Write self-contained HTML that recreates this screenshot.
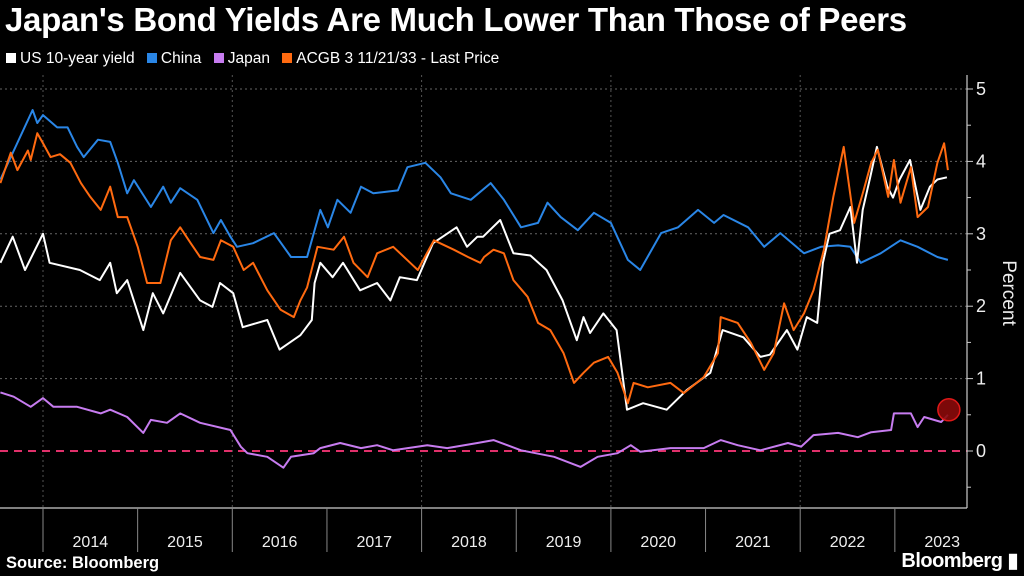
<!DOCTYPE html>
<html><head><meta charset="utf-8">
<style>
html,body{margin:0;padding:0;background:#000;width:1024px;height:576px;overflow:hidden;font-family:"Liberation Sans",sans-serif;color:#fff}
#title{position:absolute;left:5px;top:1px;font-size:33px;font-weight:bold;letter-spacing:-0.3px;white-space:nowrap}
#legend{position:absolute;left:6px;top:50px;font-size:15.5px;white-space:nowrap}
.li{display:inline-block;margin-right:8px}
.sw{display:inline-block;width:10px;height:10px;margin-right:4px;vertical-align:0px}
#source{position:absolute;left:6px;top:554px;font-size:16.5px;font-weight:bold}
#logo{position:absolute;right:6px;top:548px;font-size:20px;font-weight:bold;letter-spacing:-0.5px}
svg{position:absolute;left:0;top:0}
</style></head><body>
<div id="title">Japan's Bond Yields Are Much Lower Than Those of Peers</div>
<div id="legend">
<span class="li"><span class="sw" style="background:#fff"></span>US 10-year yield</span>
<span class="li"><span class="sw" style="background:#2a86e6"></span>China</span>
<span class="li"><span class="sw" style="background:#c77cf0"></span>Japan</span>
<span class="li"><span class="sw" style="background:#ff6a10"></span>ACGB 3 11/21/33 - Last Price</span>
</div>
<svg id="chart" width="1024" height="576"></svg>
<div id="source">Source: Bloomberg</div>
<div id="logo">Bloomberg ▮</div>
<script>
const yearLabels=["2014","2015","2016","2017","2018","2019","2020","2021","2022","2023"];
const yTicks=[0,1,2,3,4,5];
const usDates=[2013.55,2013.68,2013.81,2014.0,2014.07,2014.39,2014.60,2014.71,2014.78,2014.89,2015.06,2015.16,2015.27,2015.45,2015.66,2015.79,2015.87,2016.01,2016.11,2016.37,2016.50,2016.72,2016.84,2016.87,2016.93,2017.06,2017.17,2017.35,2017.53,2017.67,2017.77,2017.95,2018.12,2018.37,2018.48,2018.59,2018.65,2018.83,2018.97,2019.15,2019.32,2019.49,2019.64,2019.71,2019.78,2019.92,2020.06,2020.17,2020.34,2020.59,2020.80,2021.05,2021.18,2021.40,2021.58,2021.68,2021.86,2021.97,2022.07,2022.18,2022.24,2022.31,2022.42,2022.53,2022.60,2022.66,2022.74,2022.81,2022.92,2022.98,2023.05,2023.16,2023.27,2023.37,2023.45,2023.55];
const usVals=[2.6,2.96,2.5,3.0,2.6,2.5,2.36,2.6,2.18,2.36,1.67,2.18,1.9,2.46,2.08,1.99,2.32,2.18,1.71,1.81,1.4,1.6,1.81,2.32,2.6,2.4,2.6,2.22,2.32,2.08,2.4,2.36,2.87,3.09,2.82,2.96,2.96,3.19,2.73,2.7,2.5,2.08,1.53,1.85,1.63,1.9,1.67,0.57,0.66,0.57,0.84,1.08,1.67,1.57,1.3,1.33,1.67,1.4,1.85,1.77,2.6,3.0,3.05,3.37,2.6,3.33,3.78,4.2,3.65,3.5,3.75,4.02,3.33,3.65,3.75,3.78];
const cnDates=[2013.55,2013.89,2013.94,2014.0,2014.15,2014.26,2014.36,2014.43,2014.58,2014.71,2014.79,2014.89,2014.96,2015.14,2015.27,2015.35,2015.45,2015.63,2015.80,2015.88,2015.98,2016.05,2016.22,2016.44,2016.62,2016.79,2016.93,2017.01,2017.11,2017.25,2017.36,2017.49,2017.75,2017.85,2018.04,2018.20,2018.31,2018.52,2018.73,2018.87,2019.05,2019.23,2019.33,2019.47,2019.65,2019.82,2020.0,2020.18,2020.31,2020.53,2020.71,2020.92,2021.09,2021.19,2021.45,2021.62,2021.79,2022.04,2022.22,2022.40,2022.53,2022.64,2022.85,2023.06,2023.24,2023.45,2023.56];
const cnVals=[3.75,4.71,4.53,4.64,4.47,4.47,4.2,4.06,4.3,4.27,3.98,3.56,3.74,3.37,3.65,3.43,3.63,3.47,3.01,3.19,2.96,2.82,2.87,3.01,2.68,2.68,3.33,3.09,3.47,3.29,3.65,3.56,3.6,3.92,3.98,3.78,3.56,3.47,3.7,3.47,3.09,3.15,3.43,3.23,3.05,3.29,3.15,2.64,2.5,3.01,3.09,3.33,3.15,3.26,3.09,2.82,3.01,2.73,2.82,2.84,2.82,2.6,2.73,2.91,2.82,2.68,2.64];
const jpDates=[2013.55,2013.69,2013.87,2014.0,2014.11,2014.36,2014.61,2014.71,2014.89,2015.06,2015.14,2015.31,2015.45,2015.66,2015.98,2016.09,2016.16,2016.37,2016.54,2016.62,2016.86,2016.93,2017.14,2017.36,2017.53,2017.70,2018.06,2018.27,2018.59,2018.76,2019.05,2019.40,2019.68,2019.86,2020.07,2020.21,2020.31,2020.63,2020.98,2021.16,2021.34,2021.58,2021.87,2022.01,2022.14,2022.40,2022.61,2022.75,2022.96,2022.99,2023.17,2023.24,2023.31,2023.49,2023.56];
const jpVals=[0.81,0.75,0.61,0.73,0.61,0.61,0.52,0.57,0.47,0.25,0.43,0.39,0.52,0.39,0.29,0.06,-0.03,-0.08,-0.23,-0.08,-0.03,0.04,0.11,0.04,0.08,0.01,0.08,0.04,0.11,0.15,0.01,-0.08,-0.22,-0.08,-0.03,0.08,-0.01,0.04,0.04,0.15,0.08,0.01,0.11,0.06,0.22,0.25,0.19,0.26,0.29,0.52,0.52,0.33,0.47,0.40,0.50];
const auDates=[2013.55,2013.66,2013.73,2013.84,2013.87,2013.94,2014.0,2014.08,2014.18,2014.29,2014.40,2014.50,2014.61,2014.71,2014.79,2014.89,2015.0,2015.10,2015.24,2015.35,2015.45,2015.56,2015.66,2015.80,2015.88,2016.01,2016.12,2016.22,2016.37,2016.51,2016.65,2016.72,2016.79,2016.90,2017.07,2017.18,2017.28,2017.43,2017.53,2017.70,2017.88,2017.96,2018.13,2018.34,2018.49,2018.62,2018.66,2018.76,2018.87,2018.97,2019.12,2019.23,2019.36,2019.50,2019.61,2019.71,2019.82,2019.97,2020.07,2020.18,2020.24,2020.39,2020.63,2020.77,2020.98,2021.13,2021.16,2021.34,2021.48,2021.62,2021.72,2021.83,2021.93,2022.04,2022.14,2022.25,2022.35,2022.46,2022.57,2022.67,2022.75,2022.82,2022.93,2022.99,2023.06,2023.17,2023.24,2023.35,2023.45,2023.52,2023.56];
const auVals=[3.7,4.12,3.88,4.15,4.02,4.39,4.25,4.06,4.1,3.98,3.7,3.51,3.33,3.65,3.23,3.23,2.82,2.32,2.32,2.91,3.09,2.87,2.68,2.64,2.91,2.82,2.5,2.6,2.22,1.95,1.85,2.08,2.26,2.82,2.78,2.96,2.6,2.4,2.73,2.82,2.6,2.5,2.91,2.78,2.68,2.6,2.68,2.78,2.73,2.36,2.13,1.77,1.67,1.35,0.94,1.08,1.22,1.3,1.08,0.66,0.94,0.88,0.94,0.8,1.02,1.35,1.85,1.77,1.49,1.12,1.35,2.04,1.67,1.9,2.22,2.78,3.51,4.2,3.15,3.6,3.98,4.16,3.51,4.02,3.43,3.92,3.23,3.37,3.98,4.25,3.88];

const NS="http://www.w3.org/2000/svg";
const svg=document.getElementById('chart');
const X0=43,YW=94.65,Y0=451,UNIT=72.4,AXR=967,TOP=75,BOT=508;
const xs=t=>X0+(t-2014)*YW;
const ys=v=>Y0-v*UNIT;
function mk(tag,attrs){const e=document.createElementNS(NS,tag);for(const k in attrs)e.setAttribute(k,attrs[k]);svg.appendChild(e);return e;}
yTicks.forEach(v=>{
  if(v===0)return;
  const g=mk('line',{x1:0,x2:AXR,y1:ys(v),y2:ys(v),stroke:'#666','stroke-width':1,'stroke-dasharray':'2,3'});
  
  
});
[2014,2016,2018,2020,2022].forEach(y=>{
  const g=mk('line',{x1:xs(y),x2:xs(y),y1:TOP,y2:BOT,stroke:'#555','stroke-width':1,'stroke-dasharray':'2,3'});
  
  
});
const z=mk('line',{x1:0,x2:AXR,y1:ys(0),y2:ys(0),stroke:'#e0306a','stroke-width':2,'stroke-dasharray':'8,6'});


const ax=mk('line',{x1:AXR,x2:AXR,y1:TOP,y2:BOT,stroke:'#ccc','stroke-width':1.2});


const bx=mk('line',{x1:0,x2:AXR,y1:BOT,y2:BOT,stroke:'#ccc','stroke-width':1.2});


for(let v=-0.5;v<=5;v+=0.5){
  const len=Number.isInteger(v)?6:4;
  const t=mk('line',{x1:AXR,x2:AXR+len,y1:ys(v),y2:ys(v),stroke:'#ccc','stroke-width':1});
  
  
}
yTicks.forEach(v=>{
  const t=mk('text',{x:AXR+9,y:ys(v)+6,fill:'#eee','font-size':18,'font-family':'Liberation Sans, sans-serif'});
  t.textContent=String(v);
  
  
});
const pt=mk('text',{x:0,y:0,fill:'#eee','font-size':19,'font-family':'Liberation Sans, sans-serif',transform:'translate(1003,293) rotate(90)','text-anchor':'middle'});
pt.textContent='Percent';


yearLabels.forEach((lab,i)=>{
  const y=2014+i;
  const tk=mk('line',{x1:xs(y),x2:xs(y),y1:BOT,y2:552,stroke:'#888','stroke-width':1});
  
  
  const t=mk('text',{x:xs(y+0.5),y:547,fill:'#eee','font-size':16,'text-anchor':'middle','font-family':'Liberation Sans, sans-serif'});
  t.textContent=lab;
  
  
});
function series(d,v,color,name){
  const p=d.map((t,i)=>(i?'L':'M')+xs(t).toFixed(1)+','+ys(v[i]).toFixed(1)).join('');
  const e=mk('path',{d:p,fill:'none',stroke:color,'stroke-width':2,'stroke-linejoin':'round'});
  
  
}
series(cnDates,cnVals,'#2a86e6','china-line');
series(jpDates,jpVals,'#c77cf0','japan-line');
series(usDates,usVals,'#ffffff','us-10y-line');
series(auDates,auVals,'#ff6a10','acgb-line');
const c=mk('circle',{cx:xs(jpDates[jpDates.length-1])+1,cy:ys(jpVals[jpVals.length-1])-5,r:11,fill:'#8a0a0a',stroke:'#e01818','stroke-width':1.5,'fill-opacity':0.9});


</script>
</body></html>
